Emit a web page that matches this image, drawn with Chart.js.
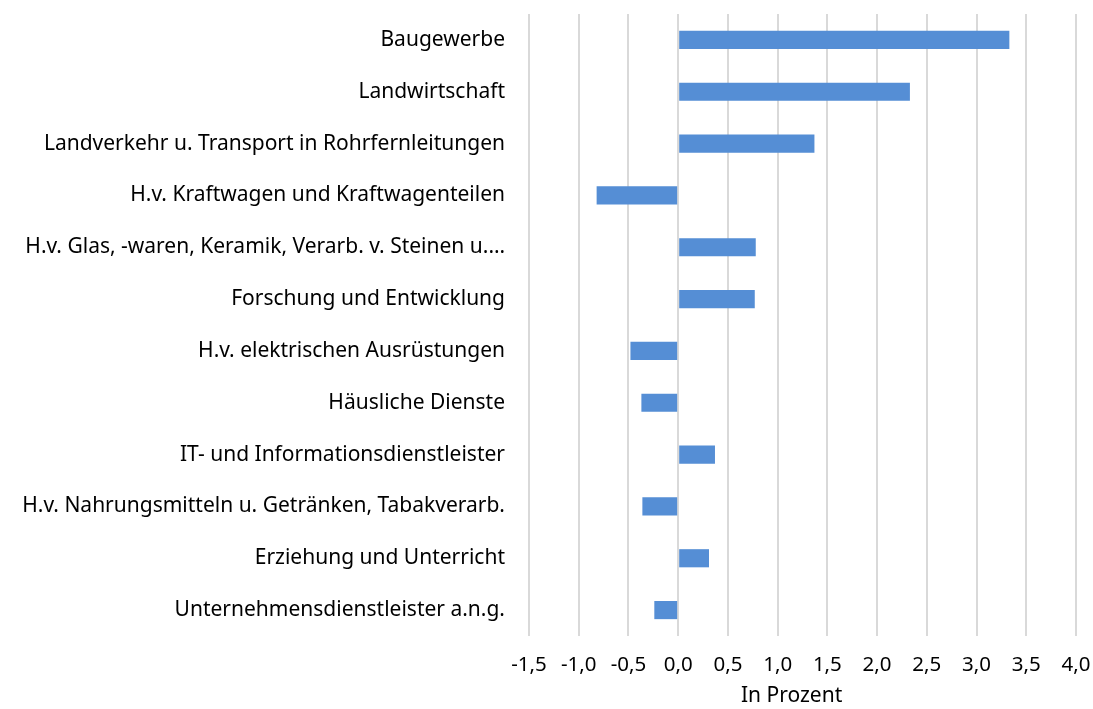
<!DOCTYPE html>
<html>
<head>
<meta charset="utf-8">
<script src="https://cdn.jsdelivr.net/npm/chart.js@4"></script>
<style>
  html, body { margin: 0; padding: 0; background: #fff; }
  #wrap { width: 1093px; height: 709px; }
</style>
</head>
<body>
<div id="wrap"><canvas id="chartCanvas"></canvas></div>
<script>
const categories = [
    "Baugewerbe",
    "Landwirtschaft",
    "Landverkehr u. Transport in Rohrfernleitungen",
    "H.v. Kraftwagen und Kraftwagenteilen",
    "H.v. Glas, -waren, Keramik, Verarb. v. Steinen u.\u2026",
    "Forschung und Entwicklung",
    "H.v. elektrischen Ausrüstungen",
    "Häusliche Dienste",
    "IT- und Informationsdienstleister",
    "H.v. Nahrungsmitteln u. Getränken, Tabakverarb.",
    "Erziehung und Unterricht",
    "Unternehmensdienstleister a.n.g."
];
const values = [3.33, 2.33, 1.37, -0.82, 0.78, 0.77, -0.48, -0.37, 0.37, -0.36, 0.31, -0.24];
const xMin = -1.5, xMax = 4.0, xStep = 0.5;
const xTitle = "In Prozent";

const ctx = document.getElementById("chartCanvas").getContext("2d");
Chart.defaults.font.family = "'Noto Sans', sans-serif";
Chart.defaults.color = "#000";

new Chart(ctx, {
    type: "bar",
    data: {
        labels: categories,
        datasets: [{
            data: values,
            backgroundColor: "#558ed5",
            barPercentage: 0.35,
            categoryPercentage: 1.0
        }]
    },
    options: {
        indexAxis: "y",
        responsive: true,
        maintainAspectRatio: false,
        animation: false,
        layout: { padding: { top: 14, right: 17, bottom: 0, left: 0 } },
        plugins: {
            legend: { display: false },
            tooltip: { enabled: false }
        },
        scales: {
            x: {
                min: xMin,
                max: xMax,
                border: { display: false },
                grid: { color: "#d9d9d9", lineWidth: 2, drawTicks: false },
                ticks: {
                    stepSize: xStep,
                    padding: 17,
                    maxRotation: 0,
                    font: { size: 20.5 },
                    callback: v => v.toFixed(1).replace(".", ",")
                },
                title: {
                    display: true,
                    // trailing spaces nudge the centred title a bit left, like the original
                    text: xTitle + "\u00a0\u00a0\u00a0\u00a0",
                    font: { size: 21 },
                    padding: { top: 0, bottom: 0 }
                },
                afterFit: scale => {
                    scale.height = 73;
                    scale.paddingLeft = 0;
                    scale.paddingRight = 0;
                }
            },
            y: {
                border: { display: false },
                grid: { display: false, drawTicks: false },
                ticks: { padding: 24, font: { size: 21 } },
                afterFit: scale => {
                    scale.width = 529;
                    scale.paddingTop = 0;
                    scale.paddingBottom = 0;
                }
            }
        }
    }
});
</script>
</body>
</html>
